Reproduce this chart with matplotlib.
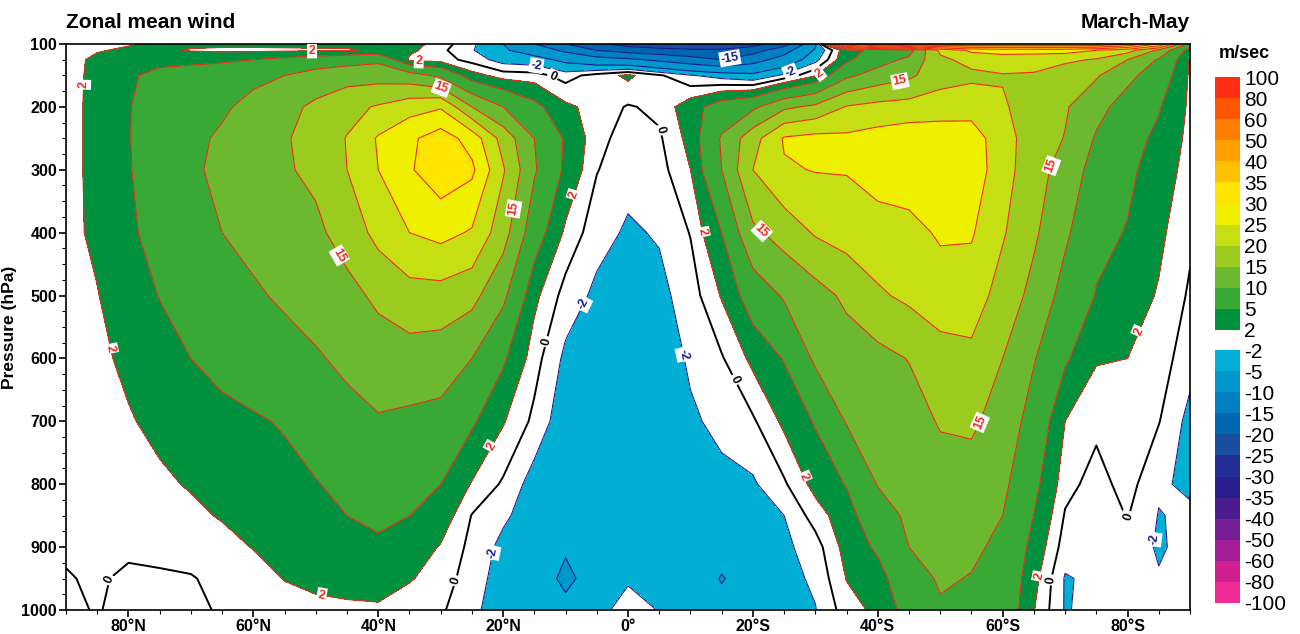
import numpy as np
import matplotlib.pyplot as plt
from matplotlib.colors import ListedColormap, BoundaryNorm
from matplotlib.cm import ScalarMappable
from matplotlib.ticker import MultipleLocator

plt.rcParams['font.family'] = ['Liberation Sans', 'DejaVu Sans']
plt.rcParams['axes.unicode_minus'] = False
plt.rcParams['contour.negative_linestyle'] = 'solid'

# zonal mean wind (m/s), one row per latitude (90N -> 90S), columns = pressure levels
lats = np.arange(90, -91, -5)
pres = [100, 110, 125, 150, 200, 250, 300, 400, 500, 600, 700, 800, 850, 900, 950, 1000]
u_by_lat = [
    [0.5, 0.8, 1.0, 1.2, 1.3, 1.3, 1.3, 1.3, 1.2, 1.0, 0.8, 0.6, 0.4, 0.2, -0.1, -0.3],      # 90N
    [1.2, 1.8, 2.6, 2.6, 2.6, 2.6, 2.6, 2.5, 1.9, 1.5, 1.2, 1.0, 0.8, 0.5, 0.2, 0.1],        # 85N
    [1.8, 2.4, 3.5, 4.5, 4.8, 4.8, 4.7, 4.3, 3.5, 2.5, 1.8, 1.2, 0.8, 0.3, -0.3, -0.5],      # 80N
    [2.3, 2.5, 4.0, 6.0, 7.0, 7.5, 7.5, 6.5, 5.1, 3.8, 2.6, 1.6, 1.0, 0.4, -0.2, -0.5],      # 75N
    [2.5, 1.8, 4.2, 6.5, 8.5, 9.2, 9.3, 8.5, 6.5, 5.0, 3.5, 2.2, 1.5, 0.6, -0.1, -0.4],      # 70N
    [2.6, 1.5, 4.5, 7.0, 9.5, 10.5, 11.0, 10.0, 8.0, 5.8, 4.3, 3.0, 2.2, 1.2, 0.4, 0.2],     # 65N
    [2.6, 1.5, 5.0, 9.2, 11.0, 12.0, 12.5, 11.5, 9.3, 7.0, 4.6, 3.8, 3.2, 2.1, 1.0, 0.5],    # 60N
    [2.6, 1.6, 6.0, 10.0, 13.5, 14.5, 14.5, 13.5, 10.8, 8.0, 5.3, 4.0, 3.6, 2.8, 2.1, 0.9],  # 55N
    [2.6, 1.7, 7.0, 12.0, 16.0, 17.0, 16.0, 14.0, 12.0, 9.5, 7.0, 4.8, 4.0, 3.2, 2.5, 1.5],  # 50N
    [2.5, 1.8, 8.0, 13.0, 18.5, 20.2, 20.0, 17.0, 13.5, 11.0, 8.5, 6.0, 5.0, 4.0, 3.0, 1.5], # 45N
    [2.5, 2.3, 9.0, 13.0, 20.5, 25.5, 25.0, 21.5, 16.0, 12.5, 9.6, 7.2, 5.6, 4.5, 3.5, 1.5], # 40N
    [3.0, 2.6, 1.5, 12.0, 23.0, 29.0, 29.5, 25.0, 18.0, 13.0, 9.0, 6.5, 5.0, 3.6, 2.2, 0.8], # 35N
    [1.0, 0.5, 1.0, 9.0, 24.5, 32.5, 33.0, 26.5, 18.0, 12.5, 8.5, 5.0, 3.5, 1.8, 1.0, 0.3],  # 30N
    [-1.5, -1.8, -0.8, 3.0, 15.0, 28.0, 31.0, 24.5, 16.5, 10.0, 5.5, 1.8, -0.1, -0.6, -1.0, -1.5],  # 25N
    [-5.0, -4.5, -3.0, 1.0, 10.0, 18.0, 20.5, 17.0, 11.0, 5.5, 2.2, -0.3, -1.6, -2.6, -3.0, -3.2],  # 20N
    [-10.0, -7.0, -3.5, 0.8, 6.0, 10.0, 10.5, 7.0, 2.6, 0.8, -0.5, -3.0, -3.2, -3.5, -4.0, -3.5],  # 15N
    [-15.0, -11.0, -6.0, -0.8, 2.5, 4.5, 4.2, 1.5, -0.8, -2.5, -3.5, -4.2, -4.5, -4.8, -5.4, -4.5],  # 10N
    [-19.0, -15.0, -8.0, 0.8, 1.2, 0.6, 0.1, -1.2, -2.5, -3.5, -4.0, -4.3, -4.4, -4.5, -4.2, -2.8],  # 5N
    [-22.0, -17.0, -9.0, 2.5, -0.2, -0.8, -1.3, -2.3, -3.5, -4.0, -4.3, -4.5, -4.3, -3.8, -2.3, -1.0],  # EQ
    [-24.0, -18.0, -11.0, 0.3, 0.5, -0.3, -0.8, -1.8, -2.6, -3.2, -3.8, -4.1, -4.2, -3.8, -3.0, -2.1],  # 5S
    [-25.0, -19.0, -13.0, -1.8, 3.5, 2.8, 2.0, 0.1, -1.0, -1.7, -2.3, -3.0, -3.3, -3.3, -3.0, -2.6],  # 10S
    [-25.0, -19.0, -15.0, -3.0, 7.0, 10.5, 10.0, 5.0, 2.2, -0.2, -1.5, -2.5, -3.0, -3.8, -5.2, -4.0],  # 15S
    [-22.0, -17.0, -12.0, -4.0, 9.0, 18.0, 20.0, 14.0, 7.0, 2.6, -0.3, -2.3, -3.0, -3.4, -3.5, -3.5],  # 20S
    [-17.0, -12.0, -8.0, -1.5, 14.0, 25.5, 24.5, 17.0, 10.5, 5.2, 2.5, -0.3, -2.0, -2.5, -2.8, -2.8],  # 25S
    [-6.0, -4.5, -2.8, 1.8, 16.0, 26.5, 25.2, 20.5, 13.0, 10.8, 5.3, 2.8, 0.9, -0.9, -1.6, -2.1],  # 30S
    [30.0, 3.8, 4.2, 9.0, 20.3, 26.0, 25.3, 22.0, 16.0, 12.5, 10.3, 5.2, 3.5, 2.9, 2.1, 1.0],  # 35S
    [40.0, 6.0, 8.0, 12.0, 21.5, 27.0, 27.0, 23.0, 19.3, 13.5, 12.5, 10.2, 8.0, 5.6, 3.6, 2.6],  # 40S
    [45.0, 8.0, 11.0, 14.0, 22.0, 28.0, 28.5, 23.0, 21.0, 15.2, 12.5, 11.5, 10.8, 10.0, 8.0, 6.5],  # 45S
    [45.0, 21.0, 19.0, 18.0, 22.5, 28.0, 29.0, 25.8, 22.0, 18.5, 15.5, 12.5, 12.0, 11.3, 10.5, 9.5],  # 50S
    [45.0, 26.0, 21.5, 19.0, 23.0, 27.5, 28.0, 25.5, 22.5, 18.8, 15.8, 13.0, 11.8, 10.8, 9.8, 9.2],  # 55S
    [45.0, 27.0, 22.5, 19.7, 20.5, 22.0, 22.0, 20.5, 18.0, 15.0, 13.0, 11.0, 10.0, 9.0, 8.3, 8.0],  # 60S
    [45.0, 27.0, 22.0, 19.5, 18.0, 17.5, 17.0, 15.8, 13.5, 10.3, 8.0, 6.0, 4.9, 3.8, 2.8, 2.1],  # 65S
    [45.0, 27.0, 21.0, 17.0, 15.5, 14.8, 13.0, 10.8, 8.2, 5.5, 2.0, 0.7, -0.2, -1.0, -2.2, -2.2],  # 70S
    [45.0, 25.0, 19.5, 15.5, 11.5, 9.5, 8.0, 6.0, 4.8, 2.2, 0.5, -0.8, -1.2, -1.5, -1.5, -1.2],  # 75S
    [40.0, 22.0, 15.0, 11.2, 8.0, 6.5, 5.7, 4.8, 3.2, 2.0, 1.4, 0.8, 0.1, -0.6, -0.8, -0.5],  # 80S
    [30.0, 14.0, 9.5, 7.5, 5.3, 4.2, 3.5, 2.5, 1.8, 1.0, 0.1, -1.7, -2.1, -2.3, -1.8, -0.8],  # 85S
    [8.0, 3.0, 1.8, 1.6, 1.5, 1.3, 1.0, 0.4, -0.3, -1.2, -2.7, -2.4, -1.6, -1.2, -0.8, -0.5],  # 90S
]
u = np.array(u_by_lat).T

pos_levels = [2, 5, 10, 15, 20, 25, 30, 35, 40, 50, 60, 80, 100]
neg_levels = [-100, -80, -60, -50, -40, -35, -30, -25, -20, -15, -10, -5, -2]
pos_colors = ['#00913f', '#39a935', '#6cb92f', '#9bcb1f', '#c6df12', '#eef000',
              '#ffe400', '#ffc000', '#ffa000', '#ff7d00', '#ff5500', '#ff2d14']
neg_colors = ['#f22c96', '#d0208f', '#a31e98', '#761d96', '#4b1c90', '#2a1d8c',
              '#232f94', '#1a4ca0', '#0066b0', '#0080c0', '#0098cc', '#00afd3']

xticks = [80, 60, 40, 20, 0, -20, -40, -60, -80]
xlabels = ['80°N', '60°N', '40°N', '20°N', '0°', '20°S', '40°S', '60°S', '80°S']

# label anchor points (lat, hPa)
pos_label_pts = [(86.2, 165), (82.2, 583), (50.6, 112), (33.5, 126), (8, 342), (21.6, 742),
                 (48.5, 944), (-30.8, 149), (-12, 399), (-28.5, 787), (-66, 947), (-82.3, 559),
                 (30.1, 173), (46.9, 440), (17.3, 364), (-43.6, 162), (-22.4, 388),
                 (-68.4, 296), (-57.2, 706)]
neg_label_pts = [(14.9, 145), (-26, 145), (7.4, 512), (-9.1, 593), (21.6, 909),
                 (-85.2, 889), (-16.3, 122)]
zero_label_pts = [(12.5, 160), (-5.1, 237), (12.8, 574), (-16.7, 636), (29, 949),
                  (-82, 857), (-67.6, 952), (84.4, 949)]

fig = plt.figure(figsize=(13, 6.34), dpi=100)
ax = fig.add_axes([0.0508, 0.0379, 0.8646, 0.8927])

red = '#ee2a1c'
navy = '#1c1c90'
levels = neg_levels + pos_levels
colors = neg_colors + ['white'] + pos_colors
ax.contourf(lats, pres, u, levels=levels, colors=colors)
ax.contour(lats, pres, u, levels=[v for v in pos_levels if v not in (2, 15)],
           colors=red, linewidths=0.8)
ax.contour(lats, pres, u, levels=[v for v in neg_levels if v not in (-15, -2)],
           colors=navy, linewidths=0.8)
cs_pos = ax.contour(lats, pres, u, levels=[2, 15], colors=red, linewidths=0.8)
cs_neg = ax.contour(lats, pres, u, levels=[-15, -2], colors=navy, linewidths=0.8)
cs_zero = ax.contour(lats, pres, u, levels=[0], colors='black', linewidths=1.4)

box = dict(boxstyle='square,pad=0.12', fc='white', ec='none')
for cs, pts, col in [(cs_pos, pos_label_pts, red),
                     (cs_neg, neg_label_pts, navy),
                     (cs_zero, zero_label_pts, 'black')]:
    texts = ax.clabel(cs, manual=pts, fmt='%d', fontsize=9, colors=col,
                      inline=True, inline_spacing=2)
    for t in texts:
        t.set_fontweight('bold')
        t.set_bbox(box)

ax.set_xlim(90, -90)
ax.set_ylim(1000, 100)
ax.set_xticks(xticks)
ax.set_xticklabels(xlabels)
ax.set_yticks(range(100, 1001, 100))
ax.xaxis.set_minor_locator(MultipleLocator(5))
ax.yaxis.set_minor_locator(MultipleLocator(25))
ax.tick_params(which='major', direction='out', length=5, width=1.2, labelsize=11.5, pad=1.5)
ax.tick_params(which='minor', direction='out', length=3, width=0.8)
for lab in ax.get_xticklabels() + ax.get_yticklabels():
    lab.set_fontweight('bold')
for sp in ax.spines.values():
    sp.set_linewidth(1.2)
ax.set_ylabel('Pressure (hPa)', fontsize=12.5, fontweight='bold', labelpad=3)

fig.text(0.0508, 0.965, 'Zonal mean wind', fontsize=15, fontweight='bold', ha='left', va='center')
fig.text(0.9154, 0.965, 'March-May', fontsize=15, fontweight='bold', ha='right', va='center')

# colour bars
cax1 = fig.add_axes([0.9346, 0.4795, 0.0192, 0.399])
norm1 = BoundaryNorm(pos_levels, len(pos_colors))
cb1 = fig.colorbar(ScalarMappable(norm=norm1, cmap=ListedColormap(pos_colors)), cax=cax1,
                   spacing='uniform', ticks=pos_levels)
cax2 = fig.add_axes([0.9346, 0.0489, 0.0192, 0.399])
norm2 = BoundaryNorm(neg_levels, len(neg_colors))
cb2 = fig.colorbar(ScalarMappable(norm=norm2, cmap=ListedColormap(neg_colors)), cax=cax2,
                   spacing='uniform', ticks=neg_levels)
for cb in (cb1, cb2):
    cb.outline.set_linewidth(0)
    cb.ax.tick_params(length=0, labelsize=15, pad=3)
fig.text(0.957, 0.916, 'm/sec', fontsize=13, fontweight='bold', ha='center', va='center')

fig.savefig('out.png', dpi=100)
